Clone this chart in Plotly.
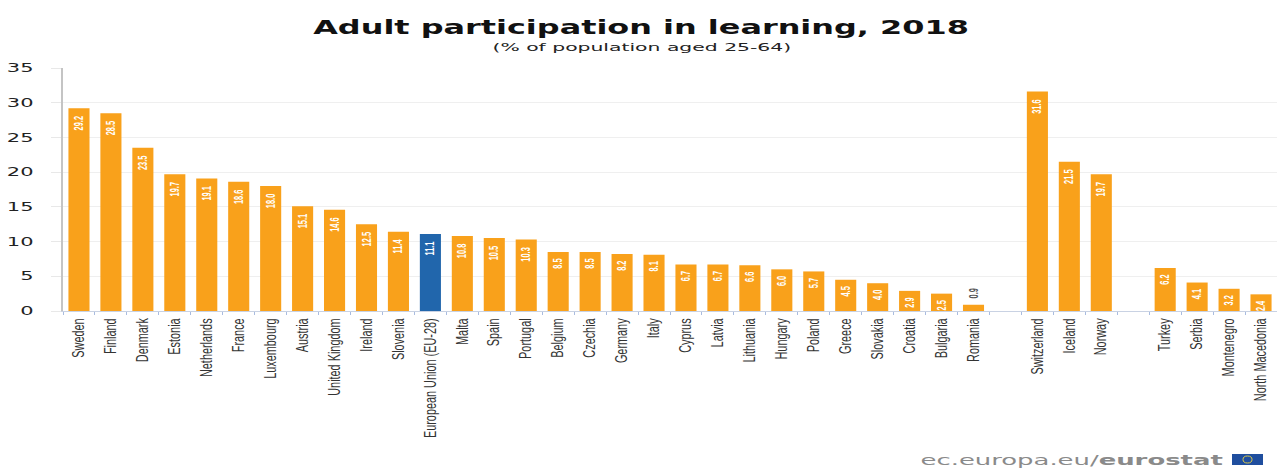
import plotly.graph_objects as go

categories = ["Sweden","Finland","Denmark","Estonia","Netherlands","France","Luxembourg","Austria",
              "United Kingdom","Ireland","Slovenia","European Union (EU-28)","Malta","Spain","Portugal",
              "Belgium","Czechia","Germany","Italy","Cyprus","Latvia","Lithuania","Hungary","Poland",
              "Greece","Slovakia","Croatia","Bulgaria","Romania"," ",
              "Switzerland","Iceland","Norway","  ",
              "Turkey","Serbia","Montenegro","North Macedonia"]
values = [29.2,28.5,23.5,19.7,19.1,18.6,18.0,15.1,
          14.6,12.5,11.4,11.1,10.8,10.5,10.3,
          8.5,8.5,8.2,8.1,6.7,6.7,6.6,6.0,5.7,
          4.5,4.0,2.9,2.5,0.9,None,
          31.6,21.5,19.7,None,
          6.2,4.1,3.2,2.4]
y_ticks = [0,5,10,15,20,25,30,35]

ORANGE = "#F9A11B"
BLUE = "#2166AC"
colors = [BLUE if c.startswith("European") else ORANGE for c in categories]
labels = ["" if v is None else f"{v:.1f}" for v in values]
positions = ["outside" if v is not None and v < 1 else "inside" for v in values]
label_colors = ["#555555" if p == "outside" else "white" for p in positions]

W, H = 1277, 468
L, T, B = 62.5, 68, 157
PW, PH = W - L, H - T - B
px = lambda x: (x - L) / PW
py = lambda y: (H - B - y) / PH

fig = go.Figure(go.Bar(
    x=categories, y=values, width=0.66,
    marker=dict(color=colors, line=dict(width=0)),
    text=labels, textposition=positions, textangle=-90,
    insidetextanchor="end", constraintext="none", cliponaxis=False,
    textfont=dict(family="Liberation Sans", size=12, weight="bold", color=label_colors),
    hoverinfo="x+y",
))

fig.update_layout(
    width=W, height=H, autosize=False,
    paper_bgcolor="white", plot_bgcolor="white",
    margin=dict(l=L, r=0, t=T, b=B, pad=0, autoexpand=False),
    showlegend=False,
    title=dict(text="<b>Adult participation in learning, 2018</b>",
               x=641/W, xanchor="center", y=1-27/H, yanchor="middle", automargin=False,
               font=dict(family="DejaVu Sans", size=19, color="#111111")),
    annotations=[
        dict(text="(% of population aged 25-64)", xref="paper", yref="paper",
             x=px(641.5), y=py(48), xanchor="center", yanchor="middle", showarrow=False,
             font=dict(family="DejaVu Sans", size=11, color="#222222")),
        dict(text="ec.europa.eu/<b>eurostat</b>", xref="paper", yref="paper",
             x=px(1072), y=py(460), xanchor="center", yanchor="middle", showarrow=False,
             font=dict(family="DejaVu Sans", size=14, color="#8a8a8a")),
    ],
    shapes=[
        dict(type="rect", xref="paper", yref="paper", x0=px(1232), x1=px(1263), y0=py(465), y1=py(454),
             fillcolor="#1F4E9E", line=dict(width=0)),
        dict(type="circle", xref="paper", yref="paper", x0=px(1243), x1=px(1252), y0=py(463), y1=py(456),
             fillcolor="rgba(0,0,0,0)", line=dict(width=1, color="#D9C84A")),
    ],
    xaxis=dict(type="category", categoryorder="array", categoryarray=categories, automargin=False,
               tickson="boundaries", ticks="outside", ticklen=3, tickcolor="#A9BCE0", tickwidth=1,
               tickangle=-90, showgrid=False, showline=True, linecolor="#C9D2E3", linewidth=1,
               tickfont=dict(family="Liberation Sans", size=16, color="#333333"),
               zeroline=False),
    yaxis=dict(range=[0,35], tickvals=y_ticks, ticks="outside", ticklen=10, tickcolor="#E8E8E8",
               tickwidth=1, showgrid=True, gridcolor="#EFEFEF", gridwidth=1, automargin=False,
               showline=True, linecolor="#C4C4C4", linewidth=2, zeroline=False,
               ticklabelstandoff=15,
               tickfont=dict(family="DejaVu Sans", size=12, color="#222222")),
)

# The reference image is stretched horizontally; reproduce that on the real text elements.
post = """
document.body.style.margin = '0';
document.body.style.overflow = 'hidden';
var gd = document.getElementById('{plot_id}');
function squeeze(sel, s, anchor) {
  gd.querySelectorAll(sel).forEach(function (el) {
    var b = el.getBBox();
    var c = anchor === 'end' ? b.x + b.width : b.x + b.width / 2;
    var t = el.getAttribute('transform') || '';
    el.setAttribute('transform', t + ' translate(' + c + ',0) scale(' + s + ',1) translate(' + (-c) + ',0)');
  });
}
squeeze('.gtitle', 1.68, 'mid');
squeeze('.annotation-text', 1.85, 'mid');
squeeze('.ytick text', 1.75, 'end');
squeeze('.xtick text', 0.68, 'end');
squeeze('.bartext', 0.62, 'mid');
"""

fig.write_html("out.html", post_script=post, config=dict(displayModeBar=False))
